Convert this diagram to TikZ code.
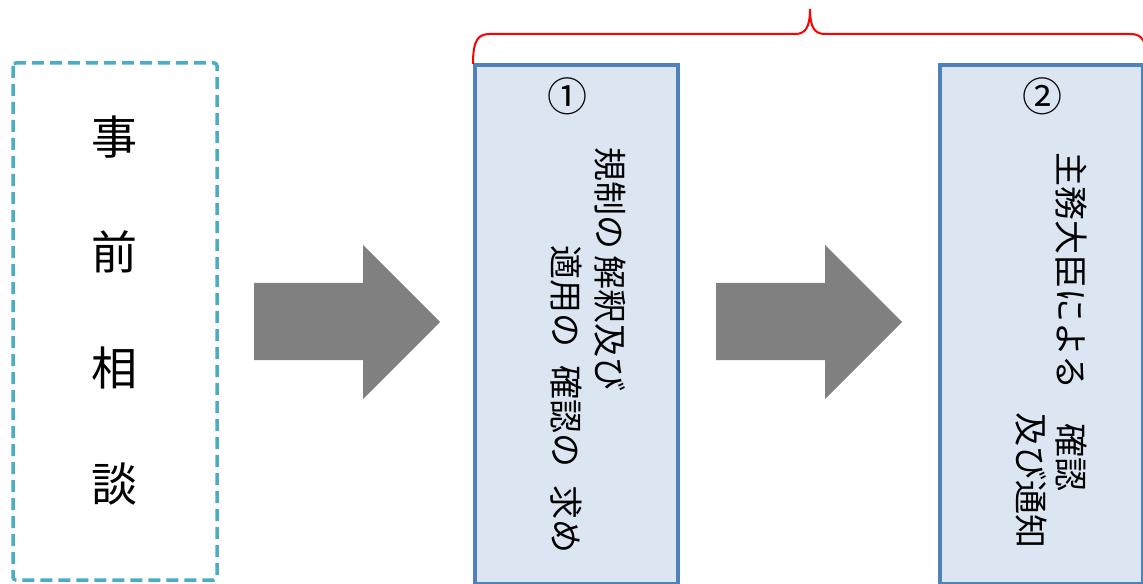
\documentclass[tikz,border=0pt]{standalone}
\usepackage{fontspec}
\newfontfamily\jp{Noto Sans CJK JP}
\definecolor{dashblue}{HTML}{4BACC6}
\definecolor{boxline}{HTML}{4F81BD}
\definecolor{boxfill}{HTML}{DCE6F2}
\definecolor{arrowgray}{HTML}{808080}
\begin{document}
\begin{tikzpicture}[x=1bp,y=-1bp,
  dashbox/.style={draw=dashblue, line width=3.5bp, dash pattern=on 12bp off 6bp, rounded corners=3bp},
  stepbox/.style={draw=boxline, fill=boxfill, line width=4bp},
  bigarrow/.style={fill=arrowgray, draw=none},
  brace/.style={draw=red, line width=2bp},
  bigchar/.style={font=\jp\fontsize{46bp}{50bp}\selectfont, inner sep=0pt},
  numtext/.style={font=\jp\fontsize{40bp}{44bp}\selectfont, inner sep=0pt},
  vtext/.style={font=\jp\fontsize{34bp}{38bp}\selectfont, inner sep=0pt, rotate=-90, anchor=west},
]
\useasboundingbox (0,0) rectangle (1143,584);
% dashed box
\draw[dashbox] (13,63) rectangle (217,580);
\node[bigchar] (c1) at (114,137) {事};
\node[bigchar] (c2) at (114,252) {前};
\node[bigchar] (c3) at (114,368) {相};
\node[bigchar] (c4) at (114,484) {談};
% arrows
\fill[bigarrow] (254,283) -- (363,283) -- (363,245) -- (440,322) -- (363,399) -- (363,360) -- (254,360) -- cycle;
\fill[bigarrow] (716,283) -- (825,283) -- (825,245) -- (902,322) -- (825,399) -- (825,360) -- (716,360) -- cycle;
% boxes
\draw[stepbox] (475,65) rectangle (678,584);
\draw[stepbox] (940,65) rectangle (1143,584);
\node[numtext] (n1) at (567,96) {①};
\node[numtext] (n2) at (1042,96) {②};
\node[vtext] (t1a) at (610,147) {規制の\hspace{6bp}解釈及び};
\node[vtext] (t1b) at (566,245) {適用の\hspace{18bp}確認の\hspace{18bp}求め};
\node[vtext] (t2a) at (1071,152) {主務大臣による　確認};
\node[vtext] (t2b) at (1031,412) {及び通知};
% brace
\draw[brace] (473,64) .. controls (473,40) and (478,34) .. (490,34)
  -- (795,34) .. controls (805,34) and (810,28) .. (810,9)
  .. controls (810,28) and (815,34) .. (825,34)
  -- (1130,34) .. controls (1142,34) and (1147,40) .. (1147,64);
\end{tikzpicture}
\end{document}
